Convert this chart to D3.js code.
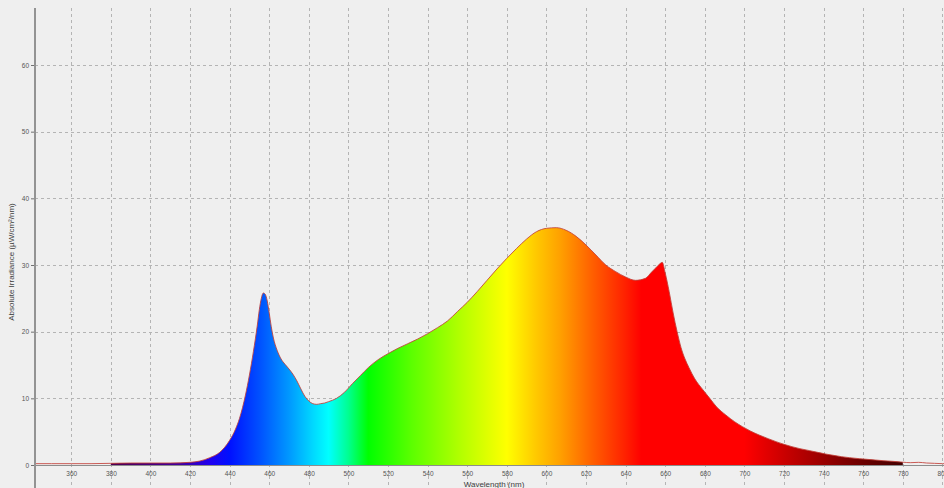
<!DOCTYPE html>
<html><head><meta charset="utf-8">
<script src="https://cdn.jsdelivr.net/npm/d3@7"></script>
<style>html,body{margin:0;padding:0;background:#efefef;overflow:hidden}svg{display:block}</style>
</head><body><svg id="c" width="944" height="488"></svg>
<script>
// ---- data ----
const wavelengths = [342,350,360,370,380,390,400,410,420,425,430,435,440,443,445,448,450,452,454,455,456,457,458,459,460,461,462,464,466,468,470,472,474,476,478,480,482,484,486,488,490,494,498,502,506,510,515,520,525,530,535,540,545,550,555,560,565,570,575,580,585,590,595,600,605,610,615,620,625,630,635,640,645,650,653,655,657,658.5,660,662,664,666,668,670,672,675,679,682.5,686,690.6,695,699,703,707.4,712,716,720,724,728,733,737,741,745,749,753,758,762,766,770,775,779,780,784,788,792,796,800,800.8];
const irradiance = [0.2,0.2,0.2,0.2,0.25,0.3,0.3,0.3,0.4,0.6,1.1,1.9,3.7,5.4,7.0,10.5,13.5,17.0,21.0,23.3,25.0,25.8,25.6,24.6,22.8,20.8,19.2,17.2,15.9,15.1,14.4,13.6,12.6,11.4,10.3,9.6,9.2,9.1,9.2,9.3,9.5,10.0,10.9,12.2,13.4,14.6,15.8,16.7,17.5,18.2,18.9,19.7,20.6,21.6,23.0,24.4,26.0,27.7,29.4,31.0,32.5,33.9,35.0,35.5,35.6,35.2,34.3,33.0,31.5,30.0,29.0,28.2,27.7,28.0,28.9,29.5,30.1,30.4,28.8,26.0,22.8,20.0,17.6,15.9,14.6,12.9,11.3,10.0,8.7,7.5,6.5,5.75,5.1,4.5,3.95,3.5,3.1,2.75,2.45,2.15,1.9,1.65,1.45,1.25,1.1,0.95,0.85,0.75,0.65,0.55,0.45,0.42,0.35,0.4,0.3,0.25,0.2,0.2];
const xTicks = [360,380,400,420,440,460,480,500,520,540,560,580,600,620,640,660,680,700,720,740,760,780,800];
const yTicks = [0,10,20,30,40,50,60];
const xLabel = "Wavelength (nm)";
const yLabel = "Absolute Irradiance (µW/cm²/nm)";
const fillRange = [380, 780];

// ---- style constants ----
const specStops = [[380,'#500050'],[415,'#4000a0'],[430,'#2000f0'],[440,'#0010ff'],[455,'#0050ff'],[470,'#0098ff'],[482,'#00d8ff'],[490,'#00ffff'],[500,'#00ff90'],[510,'#00ff00'],[532,'#5cff00'],[557,'#b4ff00'],[580,'#ffff00'],[595,'#ffc800'],[607,'#ffa000'],[623,'#ff6000'],[640,'#ff2000'],[648,'#ff0000'],[700,'#ff0000'],[724,'#c00000'],[750,'#800000'],[780,'#420000']];

const svg = d3.select('#c');
const W = 944, H = 488;
const x = d3.scaleLinear().domain([341.7, 800.8]).range([35, 944]);
const y = d3.scaleLinear().domain([0, 68.55]).range([465, 8]);
const pts = wavelengths.map((w,i)=>({w, v: irradiance[i]}));

svg.append('rect').attr('width',W).attr('height',H).attr('fill','#efefef');

// gradient
const defs = svg.append('defs');
const g = defs.append('linearGradient').attr('id','spec')
  .attr('gradientUnits','userSpaceOnUse')
  .attr('x1', x(fillRange[0])).attr('x2', x(fillRange[1])).attr('y1',0).attr('y2',0);
specStops.forEach(([w,c])=>{
  g.append('stop').attr('offset', (w-fillRange[0])/(fillRange[1]-fillRange[0])).attr('stop-color', c);
});

// grid
const grid = svg.append('g').attr('stroke','#b4b4b4').attr('stroke-width',1).attr('stroke-dasharray','3,3');
grid.selectAll('line.v').data(xTicks).join('line').attr('class','v')
  .attr('x1',d=>Math.round(x(d))+0.5).attr('x2',d=>Math.round(x(d))+0.5)
  .attr('y1',8).attr('y2',H);
grid.selectAll('line.h').data(yTicks.filter(d=>d>0)).join('line').attr('class','h')
  .attr('y1',d=>Math.round(y(d))+0.5).attr('y2',d=>Math.round(y(d))+0.5)
  .attr('x1',35).attr('x2',W);

// area
const fillPts = pts.filter(p=>p.w>=fillRange[0] && p.w<=fillRange[1]);
const area = d3.area().x(d=>x(d.w)).y0(y(0)).y1(d=>y(d.v)).curve(d3.curveMonotoneX);
svg.append('path').datum(fillPts).attr('d',area).attr('fill','url(#spec)');

// x axis baseline
svg.append('line').attr('x1',35).attr('x2',W).attr('y1',465.5).attr('y2',465.5)
  .attr('stroke','#8c8c8c').attr('stroke-width',1);

// outline
const line = d3.line().x(d=>x(d.w)).y(d=>y(d.v)).curve(d3.curveMonotoneX);
svg.append('path').datum(pts).attr('d',line).attr('fill','none')
  .attr('stroke','#c24038').attr('stroke-width',1).attr('stroke-opacity',0.85);

// axes
const font = 'Arial, "Liberation Sans", sans-serif';
const xa = svg.append('g').attr('transform','translate(0,465)')
  .call(d3.axisBottom(x).tickValues(xTicks).tickSize(0).tickPadding(6).tickFormat(d3.format('d')));
xa.select('.domain').remove();
xa.selectAll('text').attr('font-size',6.5).attr('font-family',font).attr('fill','#555');

const ya = svg.append('g').attr('transform','translate(35,0)')
  .call(d3.axisLeft(y).tickValues(yTicks).tickSize(4).tickPadding(2).tickFormat(d3.format('d')));
ya.select('.domain').remove();
ya.selectAll('.tick line').attr('stroke','#707070');
ya.selectAll('text').attr('font-size',6.5).attr('font-family',font).attr('fill','#555');

svg.append('line').attr('x1',35).attr('x2',35).attr('y1',8).attr('y2',H)
  .attr('stroke','#939393').attr('stroke-width',2);

svg.append('text').attr('x',494).attr('y',487).attr('text-anchor','middle')
  .attr('font-size',8).attr('font-family',font).attr('fill','#404040').text(xLabel);
svg.append('text').attr('transform','translate(14,262) rotate(-90)').attr('text-anchor','middle')
  .attr('font-size',8).attr('font-family',font).attr('fill','#404040').text(yLabel);
</script></body></html>
